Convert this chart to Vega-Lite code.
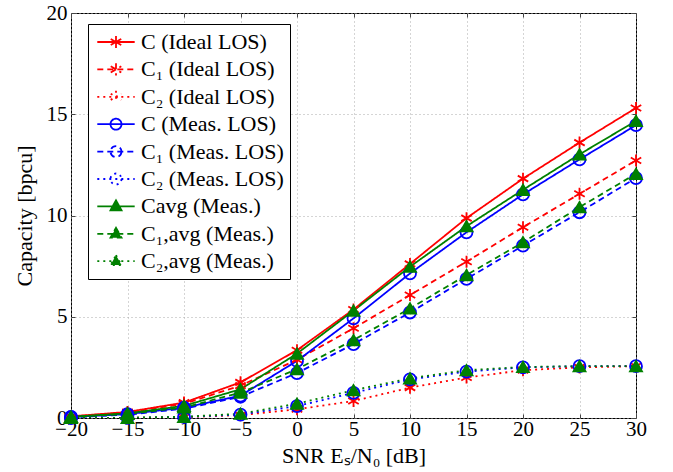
{
  "$schema": "https://vega.github.io/schema/vega-lite/v6.json",
  "width": 565,
  "height": 405,
  "padding": {"left": 13, "top": 2, "right": 26, "bottom": 5},
  "config": {
    "view": {"stroke": "black", "strokeWidth": 1},
    "font": "Liberation Serif",
    "axis": {
      "labelFont": "Liberation Serif",
      "titleFont": "Liberation Serif",
      "labelFontSize": 21,
      "titleFontSize": 22,
      "titleFontWeight": "normal",
      "labelColor": "black",
      "titleColor": "black",
      "labelFlush": false,
      "domain": false,
      "tickColor": "#444",
      "tickSize": -4,
      "labelPadding": 8,
      "gridColor": "#aaaaaa",
      "gridDash": [1, 3],
      "gridWidth": 1
    },
    "legend": {
      "labelFont": "Liberation Serif",
      "labelFontSize": 22,
      "labelColor": "black"
    }
  },
  "data": {
    "values": [
      {"series": "C (Ideal LOS)", "snr": -20, "cap": 0.08},
      {"series": "C (Ideal LOS)", "snr": -15, "cap": 0.3},
      {"series": "C (Ideal LOS)", "snr": -10, "cap": 0.76},
      {"series": "C (Ideal LOS)", "snr": -5, "cap": 1.76},
      {"series": "C (Ideal LOS)", "snr": 0, "cap": 3.35},
      {"series": "C (Ideal LOS)", "snr": 5, "cap": 5.36},
      {"series": "C (Ideal LOS)", "snr": 10, "cap": 7.61},
      {"series": "C (Ideal LOS)", "snr": 15, "cap": 9.87},
      {"series": "C (Ideal LOS)", "snr": 20, "cap": 11.82},
      {"series": "C (Ideal LOS)", "snr": 25, "cap": 13.6},
      {"series": "C (Ideal LOS)", "snr": 30, "cap": 15.31},

      {"series": "C₁ (Ideal LOS)", "snr": -20, "cap": 0.07},
      {"series": "C₁ (Ideal LOS)", "snr": -15, "cap": 0.27},
      {"series": "C₁ (Ideal LOS)", "snr": -10, "cap": 0.7},
      {"series": "C₁ (Ideal LOS)", "snr": -5, "cap": 1.6},
      {"series": "C₁ (Ideal LOS)", "snr": 0, "cap": 2.88},
      {"series": "C₁ (Ideal LOS)", "snr": 5, "cap": 4.43},
      {"series": "C₁ (Ideal LOS)", "snr": 10, "cap": 6.07},
      {"series": "C₁ (Ideal LOS)", "snr": 15, "cap": 7.72},
      {"series": "C₁ (Ideal LOS)", "snr": 20, "cap": 9.42},
      {"series": "C₁ (Ideal LOS)", "snr": 25, "cap": 11.07},
      {"series": "C₁ (Ideal LOS)", "snr": 30, "cap": 12.72},

      {"series": "C₂ (Ideal LOS)", "snr": -20, "cap": 0.0},
      {"series": "C₂ (Ideal LOS)", "snr": -15, "cap": 0.01},
      {"series": "C₂ (Ideal LOS)", "snr": -10, "cap": 0.04},
      {"series": "C₂ (Ideal LOS)", "snr": -5, "cap": 0.14},
      {"series": "C₂ (Ideal LOS)", "snr": 0, "cap": 0.43},
      {"series": "C₂ (Ideal LOS)", "snr": 5, "cap": 0.84},
      {"series": "C₂ (Ideal LOS)", "snr": 10, "cap": 1.5},
      {"series": "C₂ (Ideal LOS)", "snr": 15, "cap": 2.0},
      {"series": "C₂ (Ideal LOS)", "snr": 20, "cap": 2.36},
      {"series": "C₂ (Ideal LOS)", "snr": 25, "cap": 2.5},
      {"series": "C₂ (Ideal LOS)", "snr": 30, "cap": 2.56},

      {"series": "C (Meas. LOS)", "snr": -20, "cap": 0.05},
      {"series": "C (Meas. LOS)", "snr": -15, "cap": 0.19},
      {"series": "C (Meas. LOS)", "snr": -10, "cap": 0.51},
      {"series": "C (Meas. LOS)", "snr": -5, "cap": 1.1},
      {"series": "C (Meas. LOS)", "snr": 0, "cap": 2.82},
      {"series": "C (Meas. LOS)", "snr": 5, "cap": 4.92},
      {"series": "C (Meas. LOS)", "snr": 10, "cap": 7.14},
      {"series": "C (Meas. LOS)", "snr": 15, "cap": 9.17},
      {"series": "C (Meas. LOS)", "snr": 20, "cap": 11.04},
      {"series": "C (Meas. LOS)", "snr": 25, "cap": 12.77},
      {"series": "C (Meas. LOS)", "snr": 30, "cap": 14.46},

      {"series": "C₁ (Meas. LOS)", "snr": -20, "cap": 0.04},
      {"series": "C₁ (Meas. LOS)", "snr": -15, "cap": 0.16},
      {"series": "C₁ (Meas. LOS)", "snr": -10, "cap": 0.46},
      {"series": "C₁ (Meas. LOS)", "snr": -5, "cap": 1.05},
      {"series": "C₁ (Meas. LOS)", "snr": 0, "cap": 2.22},
      {"series": "C₁ (Meas. LOS)", "snr": 5, "cap": 3.65},
      {"series": "C₁ (Meas. LOS)", "snr": 10, "cap": 5.21},
      {"series": "C₁ (Meas. LOS)", "snr": 15, "cap": 6.87},
      {"series": "C₁ (Meas. LOS)", "snr": 20, "cap": 8.51},
      {"series": "C₁ (Meas. LOS)", "snr": 25, "cap": 10.16},
      {"series": "C₁ (Meas. LOS)", "snr": 30, "cap": 11.85},

      {"series": "C₂ (Meas. LOS)", "snr": -20, "cap": 0.0},
      {"series": "C₂ (Meas. LOS)", "snr": -15, "cap": 0.01},
      {"series": "C₂ (Meas. LOS)", "snr": -10, "cap": 0.05},
      {"series": "C₂ (Meas. LOS)", "snr": -5, "cap": 0.17},
      {"series": "C₂ (Meas. LOS)", "snr": 0, "cap": 0.59},
      {"series": "C₂ (Meas. LOS)", "snr": 5, "cap": 1.24},
      {"series": "C₂ (Meas. LOS)", "snr": 10, "cap": 1.91},
      {"series": "C₂ (Meas. LOS)", "snr": 15, "cap": 2.29},
      {"series": "C₂ (Meas. LOS)", "snr": 20, "cap": 2.5},
      {"series": "C₂ (Meas. LOS)", "snr": 25, "cap": 2.56},
      {"series": "C₂ (Meas. LOS)", "snr": 30, "cap": 2.56},

      {"series": "Cavg (Meas.)", "snr": -20, "cap": 0.06},
      {"series": "Cavg (Meas.)", "snr": -15, "cap": 0.23},
      {"series": "Cavg (Meas.)", "snr": -10, "cap": 0.6},
      {"series": "Cavg (Meas.)", "snr": -5, "cap": 1.42},
      {"series": "Cavg (Meas.)", "snr": 0, "cap": 3.18},
      {"series": "Cavg (Meas.)", "snr": 5, "cap": 5.3},
      {"series": "Cavg (Meas.)", "snr": 10, "cap": 7.47},
      {"series": "Cavg (Meas.)", "snr": 15, "cap": 9.47},
      {"series": "Cavg (Meas.)", "snr": 20, "cap": 11.27},
      {"series": "Cavg (Meas.)", "snr": 25, "cap": 13.02},
      {"series": "Cavg (Meas.)", "snr": 30, "cap": 14.67},

      {"series": "C₁,avg (Meas.)", "snr": -20, "cap": 0.05},
      {"series": "C₁,avg (Meas.)", "snr": -15, "cap": 0.2},
      {"series": "C₁,avg (Meas.)", "snr": -10, "cap": 0.52},
      {"series": "C₁,avg (Meas.)", "snr": -5, "cap": 1.25},
      {"series": "C₁,avg (Meas.)", "snr": 0, "cap": 2.41},
      {"series": "C₁,avg (Meas.)", "snr": 5, "cap": 3.85},
      {"series": "C₁,avg (Meas.)", "snr": 10, "cap": 5.41},
      {"series": "C₁,avg (Meas.)", "snr": 15, "cap": 7.06},
      {"series": "C₁,avg (Meas.)", "snr": 20, "cap": 8.68},
      {"series": "C₁,avg (Meas.)", "snr": 25, "cap": 10.41},
      {"series": "C₁,avg (Meas.)", "snr": 30, "cap": 12.06},

      {"series": "C₂,avg (Meas.)", "snr": -20, "cap": 0.0},
      {"series": "C₂,avg (Meas.)", "snr": -15, "cap": 0.01},
      {"series": "C₂,avg (Meas.)", "snr": -10, "cap": 0.06},
      {"series": "C₂,avg (Meas.)", "snr": -5, "cap": 0.21},
      {"series": "C₂,avg (Meas.)", "snr": 0, "cap": 0.71},
      {"series": "C₂,avg (Meas.)", "snr": 5, "cap": 1.37},
      {"series": "C₂,avg (Meas.)", "snr": 10, "cap": 1.96},
      {"series": "C₂,avg (Meas.)", "snr": 15, "cap": 2.36},
      {"series": "C₂,avg (Meas.)", "snr": 20, "cap": 2.52},
      {"series": "C₂,avg (Meas.)", "snr": 25, "cap": 2.56},
      {"series": "C₂,avg (Meas.)", "snr": 30, "cap": 2.56}
    ]
  },
  "resolve": {"axis": {"x": "independent", "y": "independent"}},
  "layer": [
    {
      "transform": [{"filter": "datum.snr > 1000"}],
      "mark": {"type": "point", "filled": false, "strokeWidth": 1.8, "size": 484, "opacity": 1},
      "encoding": {
        "x": {"field": "snr", "type": "quantitative", "scale": {"domain": [-20, 30], "nice": false, "zero": false}, "axis": null},
        "y": {"field": "cap", "type": "quantitative", "scale": {"domain": [0, 20], "nice": false}, "axis": null},
        "color": {
          "field": "series", "type": "nominal",
          "scale": {
            "domain": ["C (Ideal LOS)", "C₁ (Ideal LOS)", "C₂ (Ideal LOS)", "C (Meas. LOS)", "C₁ (Meas. LOS)", "C₂ (Meas. LOS)", "Cavg (Meas.)", "C₁,avg (Meas.)", "C₂,avg (Meas.)"],
            "range": ["#ff0000", "#ff0000", "#ff0000", "#0000ff", "#0000ff", "#0000ff", "#008000", "#008000", "#008000"]
          },
          "legend": {
            "title": null,
            "orient": "none",
            "legendX": 17,
            "legendY": 11,
            "padding": 6,
            "rowPadding": 4.4,
            "symbolSize": 484,
            "symbolOffset": 10,
            "labelOffset": 13,
            "symbolStrokeWidth": 1.8,
            "strokeColor": "black",
            "fillColor": "white",
            "cornerRadius": 0
          }
        },
        "strokeDash": {
          "field": "series", "type": "nominal",
          "scale": {
            "domain": ["C (Ideal LOS)", "C₁ (Ideal LOS)", "C₂ (Ideal LOS)", "C (Meas. LOS)", "C₁ (Meas. LOS)", "C₂ (Meas. LOS)", "Cavg (Meas.)", "C₁,avg (Meas.)", "C₂,avg (Meas.)"],
            "range": [[1, 0], [6, 4], [2, 4], [1, 0], [6, 4], [2, 4], [1, 0], [6, 4], [2, 4]]
          }
        },
        "fill": {
          "field": "series", "type": "nominal",
          "scale": {
            "domain": ["C (Ideal LOS)", "C₁ (Ideal LOS)", "C₂ (Ideal LOS)", "C (Meas. LOS)", "C₁ (Meas. LOS)", "C₂ (Meas. LOS)", "Cavg (Meas.)", "C₁,avg (Meas.)", "C₂,avg (Meas.)"],
            "range": ["transparent", "transparent", "transparent", "transparent", "transparent", "transparent", "#008000", "#008000", "#008000"]
          }
        },
        "shape": {
          "field": "series", "type": "nominal",
          "scale": {
            "domain": ["C (Ideal LOS)", "C₁ (Ideal LOS)", "C₂ (Ideal LOS)", "C (Meas. LOS)", "C₁ (Meas. LOS)", "C₂ (Meas. LOS)", "Cavg (Meas.)", "C₁,avg (Meas.)", "C₂,avg (Meas.)"],
            "range": [
              "M-1.7,0L1.7,0M0,-0.55L0,0.55M-0.48,-0.28L0.48,0.28M-0.48,0.28L0.48,-0.28",
              "M-1.7,0L1.7,0M0,-0.55L0,0.55M-0.48,-0.28L0.48,0.28M-0.48,0.28L0.48,-0.28",
              "M-1.7,0L1.7,0M0,-0.55L0,0.55M-0.48,-0.28L0.48,0.28M-0.48,0.28L0.48,-0.28",
              "M-1.7,0L1.7,0M0.5,0A0.5,0.5,0,1,1,-0.5,0A0.5,0.5,0,1,1,0.5,0",
              "M-1.7,0L1.7,0M0.5,0A0.5,0.5,0,1,1,-0.5,0A0.5,0.5,0,1,1,0.5,0",
              "M-1.7,0L1.7,0M0.5,0A0.5,0.5,0,1,1,-0.5,0A0.5,0.5,0,1,1,0.5,0",
              "M-1.7,0L1.7,0M0,-0.55L0.5,0.35L-0.5,0.35Z",
              "M-1.7,0L1.7,0M0,-0.55L0.5,0.35L-0.5,0.35Z",
              "M-1.7,0L1.7,0M0,-0.55L0.5,0.35L-0.5,0.35Z"
            ]
          }
        }
      }
    },
    {
      "mark": {"type": "line", "strokeWidth": 1.8, "clip": true},
      "encoding": {
        "x": {
          "field": "snr", "type": "quantitative",
          "scale": {"domain": [-20, 30], "nice": false, "zero": false},
          "axis": {"values": [-20, -15, -10, -5, 0, 5, 10, 15, 20, 25, 30], "title": "SNR Eₛ/N₀ [dB]", "grid": true, "labelPadding": 4, "titlePadding": 6}
        },
        "y": {
          "field": "cap", "type": "quantitative",
          "scale": {"domain": [0, 20], "nice": false},
          "axis": {"values": [0, 5, 10, 15, 20], "title": "Capacity [bpcu]", "grid": true, "titlePadding": 10}
        },
        "color": {"field": "series", "type": "nominal"},
        "strokeDash": {"field": "series", "type": "nominal"}
      }
    },
    {
      "mark": {"type": "point", "filled": false, "strokeWidth": 1.8, "size": 144, "opacity": 1},
      "encoding": {
        "x": {
          "field": "snr", "type": "quantitative",
          "scale": {"domain": [-20, 30], "nice": false, "zero": false},
          "axis": {"orient": "top", "values": [-20, -15, -10, -5, 0, 5, 10, 15, 20, 25, 30], "labels": false, "title": null, "grid": false}
        },
        "y": {
          "field": "cap", "type": "quantitative",
          "scale": {"domain": [0, 20], "nice": false},
          "axis": {"orient": "right", "values": [0, 5, 10, 15, 20], "labels": false, "title": null, "grid": false}
        },
        "color": {"field": "series", "type": "nominal"},
        "shape": {
          "condition": [
            {"test": "indexof(datum.series,'avg')>=0", "value": "triangle-up"},
            {"test": "indexof(datum.series,'Meas. LOS')>=0", "value": "circle"}
          ],
          "value": "M0,-1L0,1M-0.87,-0.5L0.87,0.5M-0.87,0.5L0.87,-0.5"
        },
        "fill": {"field": "series", "type": "nominal"}
      }
    }
  ]
}
